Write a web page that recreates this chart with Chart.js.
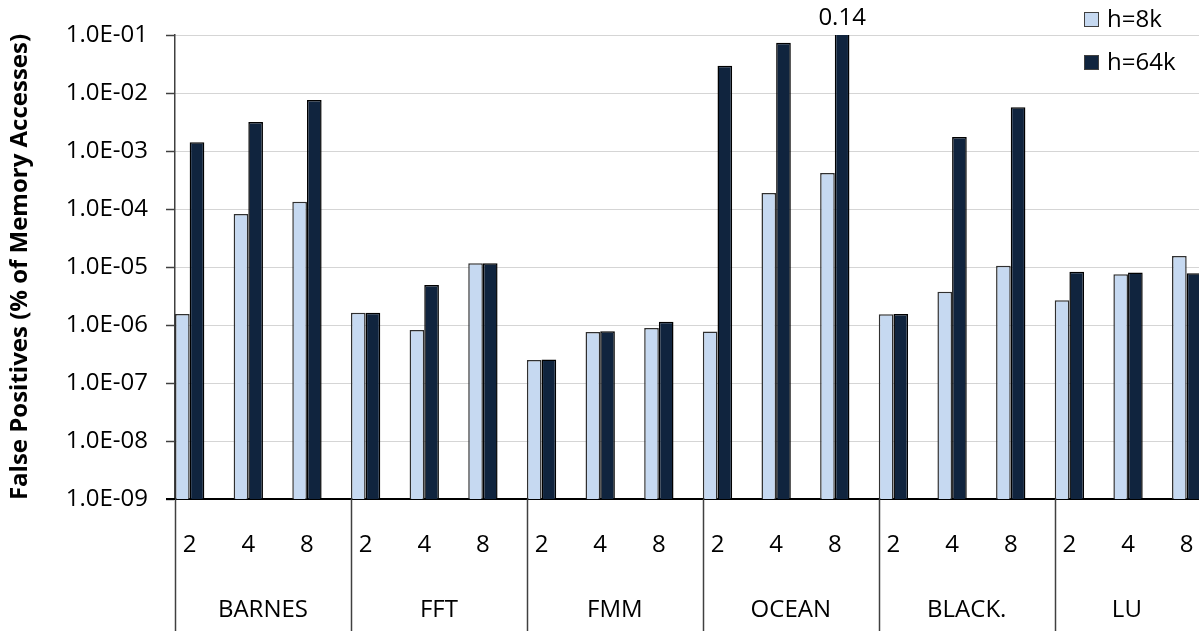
<!DOCTYPE html>
<html>
<head>
<meta charset="utf-8">
<script src="https://cdn.jsdelivr.net/npm/chart.js@4.4.1/dist/chart.umd.min.js"></script>
<style>
  html, body { margin: 0; padding: 0; background: #fff; overflow: hidden; }
  #wrap { position: relative; width: 1199px; height: 631px; }
</style>
</head>
<body>
<div id="wrap"><canvas id="c"></canvas></div>
<script>
// Benchmarks, thread counts per benchmark, and false-positive rates (% of memory accesses)
const groups = ['BARNES', 'FFT', 'FMM', 'OCEAN', 'BLACK.', 'LU'];
const threads = ['2', '4', '8'];
const seriesNames = ['h=8k', 'h=64k'];
const h8k = [
  1.55e-6, 8.2e-5, 1.34e-4,   // BARNES
  1.63e-6, 8.2e-7, 1.16e-5,   // FFT
  2.5e-7, 7.6e-7, 8.9e-7,     // FMM
  7.7e-7, 1.89e-4, 4.18e-4,   // OCEAN
  1.53e-6, 3.75e-6, 1.05e-5,  // BLACK.
  2.67e-6, 7.5e-6, 1.55e-5    // LU
];
const h64k = [
  1.41e-3, 3.16e-3, 7.6e-3,
  1.63e-6, 4.9e-6, 1.16e-5,
  2.55e-7, 7.8e-7, 1.14e-6,
  2.96e-2, 7.37e-2, 0.14,
  1.55e-6, 1.74e-3, 5.66e-3,
  8.3e-6, 8.0e-6, 7.8e-6
];
const yTicks = [1e-9, 1e-8, 1e-7, 1e-6, 1e-5, 1e-4, 1e-3, 1e-2, 1e-1];

const FONT = "'Open Sans', sans-serif";
const LIGHT = '#c6d9f1';
const DARK = '#10243e';

const fmtSci = v => {
  const e = Math.round(Math.log10(v));
  return '1.0E' + (e < 0 ? '-' : '+') + String(Math.abs(e)).padStart(2, '0');
};

// Group separators, group names, over-range value labels and the legend
const decorations = {
  id: 'decorations',
  afterDraw(chart) {
    const { ctx, chartArea, scales } = chart;
    const xs = scales.x;
    const ys = scales.y;
    ctx.save();
    // vertical separators under the axis, one per benchmark
    ctx.strokeStyle = '#404040';
    ctx.lineWidth = 1.5;
    groups.forEach((g, gi) => {
      const x = Math.round(xs.getPixelForValue(gi * 3 - 0.25)) + 0.5;
      ctx.beginPath();
      ctx.moveTo(x, chartArea.bottom);
      ctx.lineTo(x, chart.height);
      ctx.stroke();
    });
    // x axis line continues a little to the left of the value axis
    ctx.strokeStyle = '#000';
    ctx.lineWidth = 2;
    ctx.beginPath();
    ctx.moveTo(chartArea.left - 9, chartArea.bottom);
    ctx.lineTo(chartArea.left, chartArea.bottom);
    ctx.stroke();
    // benchmark names centred in their cells
    ctx.fillStyle = '#000';
    ctx.font = '24px ' + FONT;
    ctx.textAlign = 'center';
    ctx.textBaseline = 'middle';
    groups.forEach((g, gi) => {
      const x0 = xs.getPixelForValue(gi * 3 - 0.25);
      const x1 = Math.min(xs.getPixelForValue(gi * 3 + 2.75), chartArea.right);
      ctx.fillText(g, (x0 + x1) / 2, 610);
    });
    // values beyond the axis maximum are written above the clipped bar
    chart.data.datasets.forEach((ds, di) => {
      const meta = chart.getDatasetMeta(di);
      ds.data.forEach((p, i) => {
        if (p.y > ys.max) {
          ctx.fillText(String(p.y), meta.data[i].x, chartArea.top - 17);
        }
      });
    });
    // legend
    ctx.textAlign = 'left';
    chart.data.datasets.forEach((ds, di) => {
      const top = 12 + di * 43;
      ctx.fillStyle = ds.backgroundColor;
      ctx.fillRect(1084.5, top + 0.5, 14, 14);
      ctx.strokeStyle = '#404040';
      ctx.lineWidth = 1;
      ctx.strokeRect(1084.5, top + 0.5, 14, 14);
      ctx.fillStyle = '#000';
      ctx.fillText(ds.label, 1107, top + 8);
    });
    ctx.restore();
  }
};

new Chart(document.getElementById('c'), {
  type: 'bar',
  data: {
    datasets: [
      {
        label: seriesNames[0],
        data: h8k.map((v, i) => ({ x: i, y: v })),
        backgroundColor: LIGHT,
        borderColor: '#303030',
        borderWidth: 1.5
      },
      {
        label: seriesNames[1],
        data: h64k.map((v, i) => ({ x: i, y: v })),
        backgroundColor: DARK,
        borderColor: '#000',
        borderWidth: 1.5
      }
    ]
  },
  options: {
    responsive: true,
    maintainAspectRatio: false,
    animation: false,
    devicePixelRatio: 1,
    categoryPercentage: 0.5,
    barPercentage: 1.0,
    layout: { padding: { top: 35, left: 0, right: 0, bottom: 0 } },
    plugins: {
      legend: { display: false },
      tooltip: { enabled: false }
    },
    scales: {
      x: {
        type: 'linear',
        offset: false,
        min: -0.25,
        max: 17.21,
        afterBuildTicks: axis => { axis.ticks = h8k.map((_, i) => ({ value: i })); },
        afterFit: axis => { axis.height = 132; },
        ticks: {
          callback: v => threads[v % 3],
          font: { family: FONT, size: 24 },
          color: '#000',
          padding: 0,
          maxRotation: 0,
          autoSkip: false
        },
        grid: { display: false, drawTicks: true, tickLength: 32, drawOnChartArea: false, tickColor: 'rgba(0,0,0,0)' },
        border: { display: true, color: '#000', width: 2 }
      },
      y: {
        type: 'logarithmic',
        min: 1e-9,
        max: 1e-1,
        afterBuildTicks: axis => { axis.ticks = yTicks.map(v => ({ value: v })); },
        afterFit: axis => { axis.width = 175; },
        ticks: {
          callback: v => fmtSci(v),
          font: { family: FONT, size: 24 },
          color: '#000',
          padding: 18
        },
        grid: {
          color: '#ababab',
          lineWidth: 1,
          tickColor: '#404040',
          tickWidth: 1.5,
          tickLength: 9
        },
        border: { display: true, color: '#404040', width: 1.5, dash: [1, 1] },
        title: {
          display: true,
          text: 'False Positives (% of Memory Accesses)',
          font: { family: FONT, size: 24, weight: 'bold' },
          color: '#000',
          padding: { top: 6, bottom: 0 }
        }
      }
    }
  },
  plugins: [decorations]
});
</script>
</body>
</html>
